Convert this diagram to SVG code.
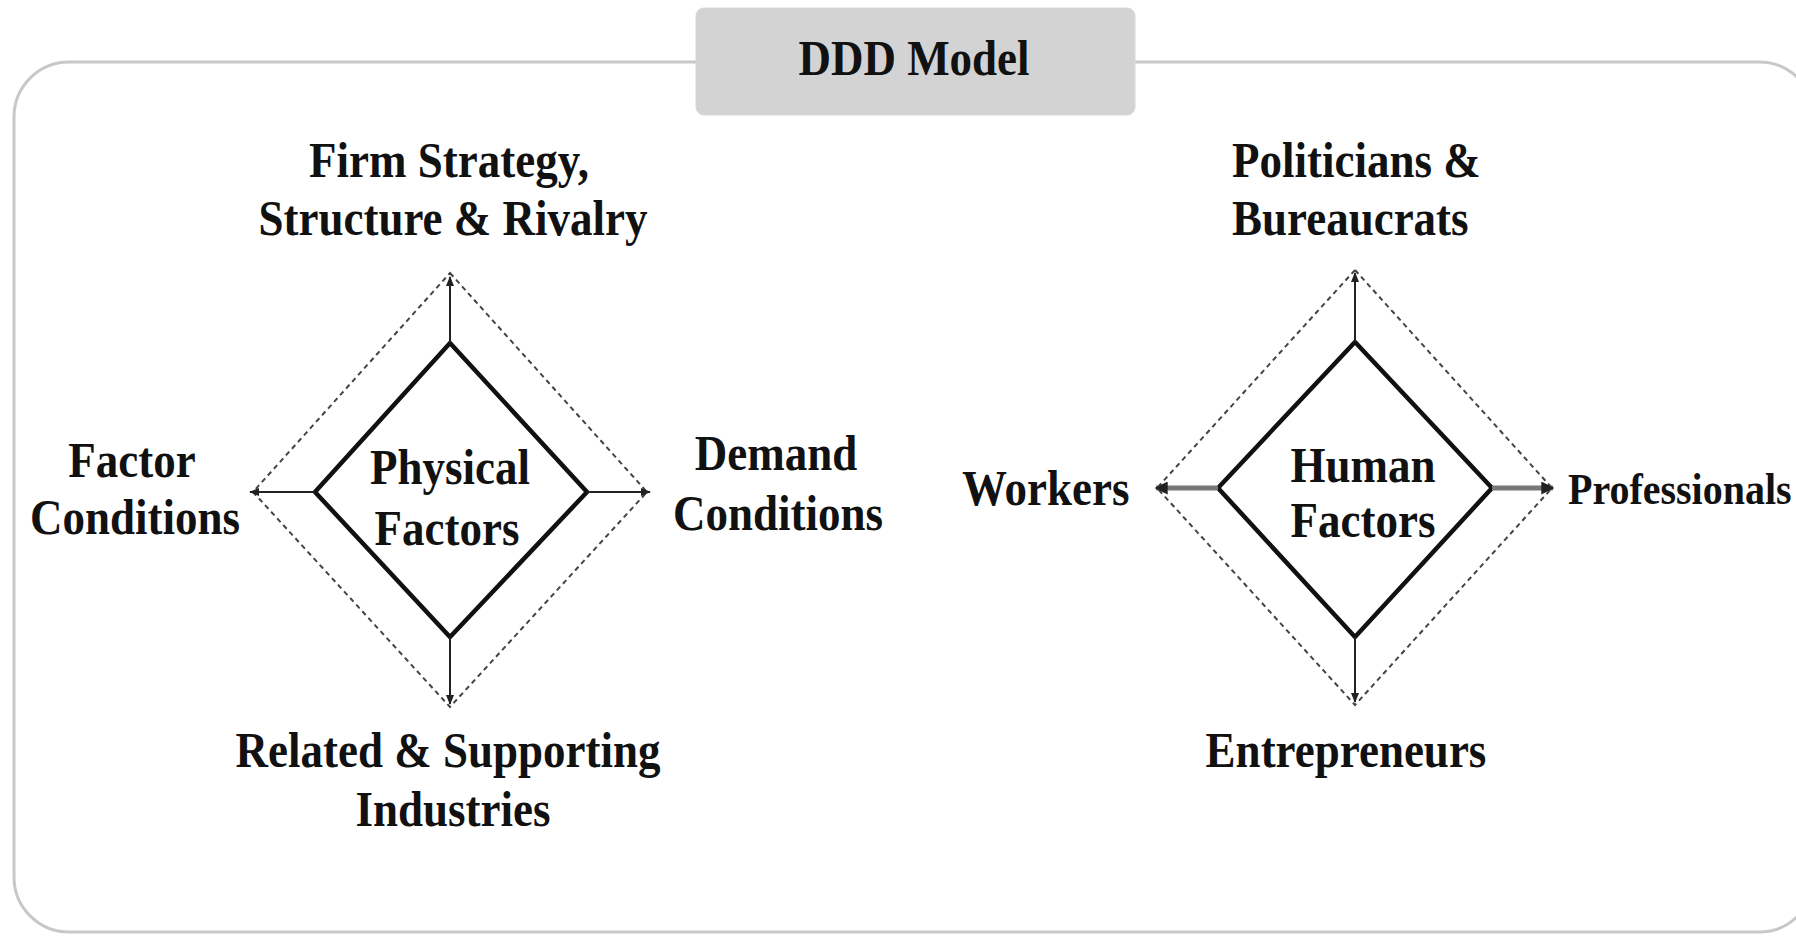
<svg xmlns="http://www.w3.org/2000/svg" width="1796" height="937" viewBox="0 0 1796 937">
<defs>
<style>
text{font-family:"Liberation Serif","Times New Roman",serif;font-weight:bold;fill:#111;font-size:45px}
.mid{text-anchor:middle}
.inner{fill:none;stroke:#111;stroke-width:4.5;stroke-linejoin:miter}
.outer{fill:none;stroke:#444;stroke-width:2;stroke-dasharray:5 4}
.arr{stroke:#222;stroke-width:2;fill:none;marker-end:url(#ah)}
.arrT{stroke:#777;stroke-width:5;fill:none;marker-end:url(#ah2)}
</style>
<marker id="ah" viewBox="0 0 10 10" refX="9" refY="5" markerWidth="5" markerHeight="5" orient="auto" markerUnits="strokeWidth">
<path d="M0,1 L10,5 L0,9 z" fill="#222"/>
</marker>
<marker id="ah2" viewBox="0 0 10 10" refX="9" refY="5" markerWidth="2.6" markerHeight="2.6" orient="auto" markerUnits="strokeWidth">
<path d="M0,0 L10,5 L0,10 z" fill="#222"/>
</marker>
</defs>
<rect x="0" y="0" width="1796" height="937" fill="#fff"/>
<g id="frame">
<rect x="14" y="62" width="1800" height="870" rx="55" ry="55" fill="none" stroke="#c8c8c8" stroke-width="3"/>
</g>
<g id="title">
<rect x="696" y="8" width="439" height="107" rx="8" ry="8" fill="#d3d3d3" stroke="#d8d8d8" stroke-width="1"/>
<text class="mid" x="914" y="75" transform="matrix(1 0 0 1.12 0 -9)">DDD Model</text>
</g>
<g id="physical-factors">
<polygon class="outer" points="450,273 647,492 450,707 253,492"/>
<polygon class="inner" points="450,343 587,492 450,637 315,492" fill="#fff"/>
<text class="mid" x="450" y="484" transform="matrix(1 0 0 1.12 0 -58.08)">Physical</text>
<text class="mid" x="447" y="545" transform="matrix(1 0 0 1.12 0 -65.4)">Factors</text>
</g>
<g id="human-factors">
<polygon class="outer" points="1355,270 1552,488 1355,705 1157,488"/>
<polygon class="inner" points="1355,342 1492,488 1355,637 1218,488" fill="#fff"/>
<text class="mid" x="1363" y="482" transform="matrix(1 0 0 1.12 0 -57.84)">Human</text>
<text class="mid" x="1363" y="537" transform="matrix(1 0 0 1.12 0 -64.44)">Factors</text>
</g>
<g id="firm-strategy">
<text class="mid" x="449" y="177" transform="matrix(1 0 0 1.12 0 -21.24)">Firm Strategy,</text>
<text class="mid" x="453" y="235" transform="matrix(1 0 0 1.12 0 -28.2)">Structure &amp; Rivalry</text>
</g>
<g id="factor-conditions">
<text class="mid" x="132" y="477" transform="matrix(1 0 0 1.12 0 -57.24)">Factor</text>
<text class="mid" x="135" y="534" transform="matrix(1 0 0 1.12 0 -64.08)">Conditions</text>
</g>
<g id="demand-conditions">
<text class="mid" x="776" y="470" transform="matrix(1 0 0 1.12 0 -56.4)">Demand</text>
<text class="mid" x="778" y="530" transform="matrix(1 0 0 1.12 0 -63.6)">Conditions</text>
</g>
<g id="related-supporting">
<text class="mid" x="448" y="767" transform="matrix(1 0 0 1.12 0 -92.04)">Related &amp; Supporting</text>
<text class="mid" x="453" y="826" transform="matrix(1 0 0 1.12 0 -99.12)">Industries</text>
</g>
<g id="politicians">
<text x="1232" y="177" transform="matrix(1 0 0 1.12 0 -21.24)">Politicians &amp;</text>
<text x="1232" y="235" transform="matrix(1 0 0 1.12 0 -28.2)">Bureaucrats</text>
</g>
<g id="workers">
<text x="962" y="505" transform="matrix(1 0 0 1.12 0 -60.6)">Workers</text>
</g>
<g id="professionals">
<text x="1568" y="504" style="font-size:40px" transform="matrix(1 0 0 1.12 0 -60.48)">Professionals</text>
</g>
<g id="entrepreneurs">
<text class="mid" x="1346" y="767" transform="matrix(1 0 0 1.12 0 -92.04)">Entrepreneurs</text>
</g>
<g id="connectors">
<line class="arr" x1="450" y1="343" x2="450" y2="277"/>
<line class="arr" x1="450" y1="637" x2="450" y2="704"/>
<line class="arr" x1="315" y1="492" x2="250" y2="492"/>
<line class="arr" x1="587" y1="492" x2="650" y2="492"/>
<line class="arr" x1="1355" y1="342" x2="1355" y2="273"/>
<line class="arr" x1="1355" y1="637" x2="1355" y2="702"/>
<line class="arrT" x1="1218" y1="488" x2="1156" y2="488"/>
<line class="arrT" x1="1492" y1="488" x2="1553" y2="488"/>
</g>
</svg>
